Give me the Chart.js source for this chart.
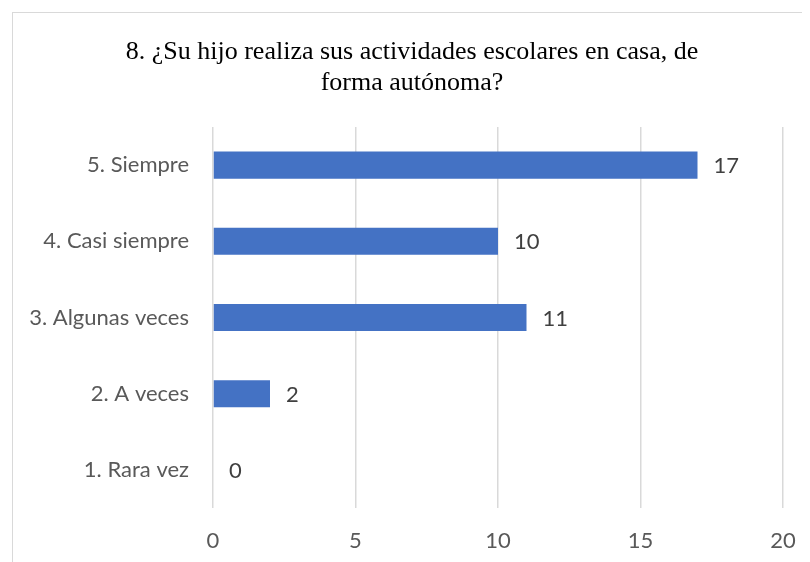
<!DOCTYPE html>
<html>
<head>
<meta charset="utf-8">
<script src="https://cdn.jsdelivr.net/npm/chart.js@4/dist/chart.umd.min.js"></script>
<style>
	body { margin: 0; background: #fff; }
	#wrap { position: relative; width: 810px; height: 562px; overflow: hidden; }
	#frame {
		position: absolute; left: 12px; top: 12px; width: 789px; height: 600px;
		border-left: 1px solid #d9d9d9; border-top: 1px solid #d9d9d9;
	}
	canvas { position: absolute; left: 0; top: 0; }
</style>
</head>
<body>
<div id="wrap">
	<div id="frame"></div>
	<canvas id="chart" width="810" height="562"></canvas>
</div>
<script>
const categories = ["5. Siempre", "4. Casi siempre", "3. Algunas veces", "2. A veces", "1. Rara vez"];
const counts = [17, 10, 11, 2, 0];
const xTicks = [0, 5, 10, 15, 20];
const titleLines = ["8. ¿Su hijo realiza sus actividades escolares en casa, de", "forma autónoma?"];

const labelFont = "Lato, 'Open Sans', sans-serif";

// title drawn by hand so it can sit centred on the frame, not the plot
const chartTitle = {
	id: "chartTitle",
	afterDraw(chart) {
		const ctx = chart.ctx;
		ctx.save();
		ctx.font = "26px 'Liberation Serif', 'Times New Roman', serif";
		ctx.fillStyle = "#000";
		ctx.textAlign = "center";
		ctx.textBaseline = "alphabetic";
		titleLines.forEach((line, i) => {
			ctx.fillText(line, 412, 59 + i * 31);
		});
		ctx.restore();
	},
};

// draws the value next to each bar (no datalabels plugin available)
const valueLabels = {
	id: "valueLabels",
	afterDatasetsDraw(chart) {
		const ctx = chart.ctx;
		const meta = chart.getDatasetMeta(0);
		ctx.save();
		ctx.font = "22px " + labelFont;
		ctx.fillStyle = "#404040";
		ctx.textAlign = "left";
		ctx.textBaseline = "middle";
		meta.data.forEach((bar, i) => {
			ctx.fillText(String(counts[i]), bar.x + 16, bar.y + 1);
		});
		ctx.restore();
	},
};

const ctx = document.getElementById("chart").getContext("2d");
new Chart(ctx, {
	type: "bar",
	data: {
		labels: categories,
		datasets: [
			{
				data: counts,
				backgroundColor: "#4472C4",
				barPercentage: 0.355,
				categoryPercentage: 1,
			},
		],
	},
	options: {
		indexAxis: "y",
		responsive: false,
		animation: false,
		layout: {
			padding: { left: 0, right: 27, top: 127, bottom: 0 },
		},
		plugins: {
			legend: { display: false },
			tooltip: { enabled: false },
			title: { display: false },
		},
		scales: {
			x: {
				min: 0,
				max: 20,
				afterBuildTicks: (scale) => {
					scale.ticks = xTicks.map((v) => ({ value: v }));
				},
				afterFit: (scale) => {
					scale.height = 54;
					scale.paddingLeft = 0;
					scale.paddingRight = 0;
				},
				grid: { color: "#d9d9d9", lineWidth: 1.5, drawTicks: false },
				border: { display: false },
				ticks: {
					padding: 20,
					color: "#595959",
					font: { family: labelFont, size: 22 },
				},
			},
			y: {
				afterFit: (scale) => {
					scale.width = 213;
				},
				grid: { display: false, drawTicks: false },
				border: { display: false },
				ticks: {
					padding: 24,
					color: "#595959",
					font: { family: labelFont, size: 22 },
				},
			},
		},
	},
	plugins: [valueLabels, chartTitle],
});
</script>
</body>
</html>
